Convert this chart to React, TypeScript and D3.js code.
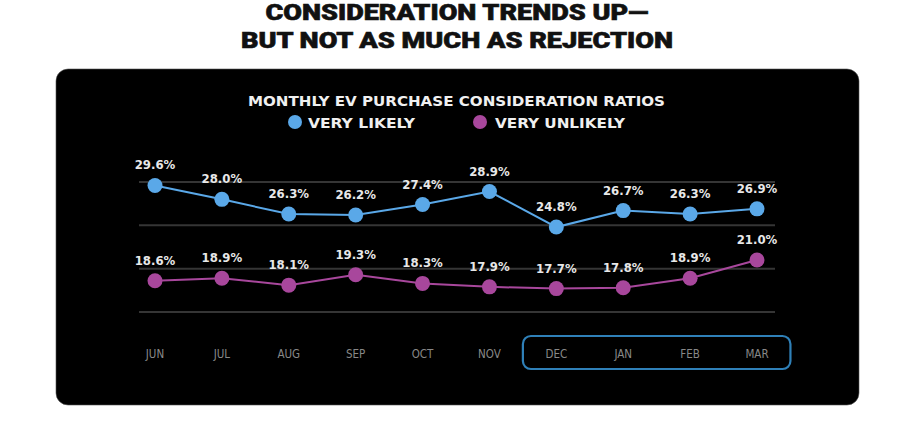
import { useEffect, useRef } from 'react';
import * as d3 from 'd3';

const months = ['JUN', 'JUL', 'AUG', 'SEP', 'OCT', 'NOV', 'DEC', 'JAN', 'FEB', 'MAR'];
const veryLikely = [29.6, 28.0, 26.3, 26.2, 27.4, 28.9, 24.8, 26.7, 26.3, 26.9];
const veryUnlikely = [18.6, 18.9, 18.1, 19.3, 18.3, 17.9, 17.7, 17.8, 18.9, 21.0];
const gridTicks = [15, 20, 25, 30];
const highlighted = ['DEC', 'JAN', 'FEB', 'MAR'];

const titleLines = ['CONSIDERATION TRENDS UP—', 'BUT NOT AS MUCH AS REJECTION'];
const subtitle = 'MONTHLY EV PURCHASE CONSIDERATION RATIOS';
const seriesNames = ['VERY LIKELY', 'VERY UNLIKELY'];

const BLUE = '#5aa8e8';
const MAGENTA = '#a8479c';
const NARROW = "'DejaVu Sans Condensed', 'Liberation Sans Narrow', sans-serif";

export default function App() {
  const svgRef = useRef<SVGSVGElement>(null);
  const width = 900;
  const height = 436;

  useEffect(() => {
    if (!svgRef.current) return;
    const svg = d3.select(svgRef.current);
    svg.selectAll('*').remove();

    // Title
    const titleWidths = [383, 432];
    const titleBase = [20, 48];
    titleLines.forEach((t, i) => {
      svg.append('text')
        .attr('x', 457)
        .attr('y', titleBase[i])
        .attr('text-anchor', 'middle')
        .attr('font-family', 'Roboto, sans-serif')
        .attr('font-weight', 900)
        .attr('font-size', 22)
        .attr('fill', '#111')
        .attr('stroke', '#111')
        .attr('stroke-width', 0.6)
        .attr('textLength', titleWidths[i])
        .attr('lengthAdjust', 'spacingAndGlyphs')
        .text(t);
    });

    // Black panel
    svg.append('rect')
      .attr('x', 56)
      .attr('y', 69)
      .attr('width', 803)
      .attr('height', 336)
      .attr('rx', 12)
      .attr('fill', '#000')
      .attr('stroke', '#555')
      .attr('stroke-width', 0.6);

    svg.append('text')
      .attr('x', 248)
      .attr('y', 106)
      .attr('font-family', NARROW)
      .attr('font-weight', 'bold')
      .attr('font-size', 14)
      .attr('fill', '#f0f0f0')
      .attr('textLength', 417)
      .attr('lengthAdjust', 'spacingAndGlyphs')
      .text(subtitle);

    // Legend
    const legend = [
      { name: seriesNames[0], color: BLUE, cx: 295, tx: 308, w: 107 },
      { name: seriesNames[1], color: MAGENTA, cx: 480, tx: 495, w: 130 },
    ];
    legend.forEach(l => {
      svg.append('circle')
        .attr('cx', l.cx)
        .attr('cy', 122)
        .attr('r', 7)
        .attr('fill', l.color);
      svg.append('text')
        .attr('x', l.tx)
        .attr('y', 127.5)
        .attr('font-family', NARROW)
        .attr('font-weight', 'bold')
        .attr('font-size', 14)
        .attr('fill', '#f0f0f0')
        .attr('textLength', l.w)
        .attr('lengthAdjust', 'spacingAndGlyphs')
        .text(l.name);
    });

    const x = d3.scalePoint<string>()
      .domain(months)
      .range([155, 757]);

    const y = d3.scaleLinear()
      .domain([15, 30])
      .range([312, 182]);

    // Gridlines
    svg.append('g')
      .selectAll('line')
      .data(gridTicks)
      .join('line')
      .attr('x1', 139)
      .attr('x2', 775)
      .attr('y1', d => y(d))
      .attr('y2', d => y(d))
      .attr('stroke', '#353535')
      .attr('stroke-width', 2);

    // Highlight box round the latest months
    const step = x.step();
    const first = x(highlighted[0])!;
    const last = x(highlighted[highlighted.length - 1])!;
    svg.append('rect')
      .attr('x', first - step / 2)
      .attr('y', 336)
      .attr('width', last - first + step)
      .attr('height', 33)
      .attr('rx', 8)
      .attr('fill', 'none')
      .attr('stroke', '#2f80b8')
      .attr('stroke-width', 2.2);

    // Month labels
    svg.append('g')
      .selectAll('text')
      .data(months)
      .join('text')
      .attr('x', d => x(d)!)
      .attr('y', 358)
      .attr('text-anchor', 'middle')
      .attr('font-family', NARROW)
      .attr('font-size', 11.5)
      .attr('fill', '#888')
      .text(d => d);

    const line = d3.line<number>()
      .x((_, i) => x(months[i])!)
      .y(d => y(d));

    const series = [
      { values: veryLikely, color: BLUE },
      { values: veryUnlikely, color: MAGENTA },
    ];

    series.forEach(s => {
      const g = svg.append('g');
      g.append('path')
        .datum(s.values)
        .attr('fill', 'none')
        .attr('stroke', s.color)
        .attr('stroke-width', 2)
        .attr('d', line);

      g.selectAll('circle')
        .data(s.values)
        .join('circle')
        .attr('cx', (_, i) => x(months[i])!)
        .attr('cy', d => y(d))
        .attr('r', 7.5)
        .attr('fill', s.color);

      g.selectAll('text')
        .data(s.values)
        .join('text')
        .attr('x', (_, i) => x(months[i])!)
        .attr('y', d => y(d) - 16)
        .attr('text-anchor', 'middle')
        .attr('font-family', NARROW)
        .attr('font-weight', 'bold')
        .attr('font-size', 13)
        .attr('fill', '#e8e8e8')
        .text(d => `${d.toFixed(1)}%`);
    });
  }, []);

  return (
    <div style={{ position: 'absolute', left: 0, top: 0 }}>
      <svg ref={svgRef} width={width} height={height} style={{ display: 'block', background: '#fff' }} />
    </div>
  );
}
